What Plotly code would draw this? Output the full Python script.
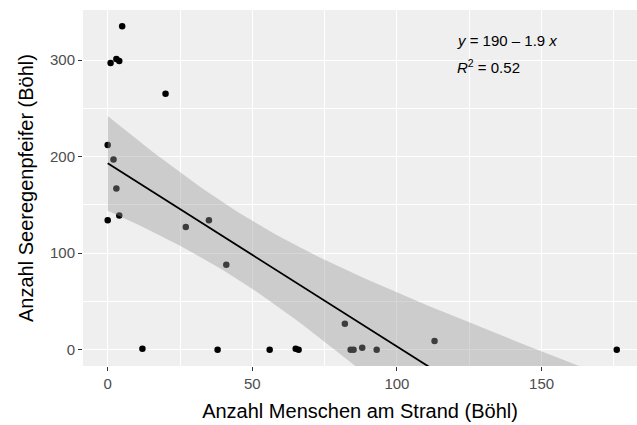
import numpy as np
import plotly.graph_objects as go

# Beach counts at Böhl: people on the beach vs. Kentish plovers
menschen = [5, 1, 3, 4, 20, 0, 2, 3, 4, 0, 27, 35, 41, 12, 38, 56, 65, 66,
            82, 84, 85, 88, 93, 113, 176]
seeregenpfeifer = [335, 297, 301, 299, 265, 212, 197, 167, 139, 134, 127, 134, 88,
                   1, 0, 0, 1, 0, 27, 0, 0, 2, 0, 9, 0]

x_ticks = [0, 50, 100, 150]
y_ticks = [0, 100, 200, 300]
x_title = "Anzahl Menschen am Strand (Böhl)"
y_title = "Anzahl Seeregenpfeifer (Böhl)"

# Linear model with 95% confidence band
x = np.asarray(menschen, dtype=float)
y = np.asarray(seeregenpfeifer, dtype=float)
n = len(x)
slope, intercept = np.polyfit(x, y, 1)
resid = y - (intercept + slope * x)
s = np.sqrt(np.sum(resid ** 2) / (n - 2))
sxx = np.sum((x - x.mean()) ** 2)
r2 = 1 - np.sum(resid ** 2) / np.sum((y - y.mean()) ** 2)
t_crit = 2.0687  # t quantile 0.975, df = 23

xs = np.linspace(x.min(), x.max(), 80)
fit = intercept + slope * xs
se = s * np.sqrt(1.0 / n + (xs - x.mean()) ** 2 / sxx)
upper = fit + t_crit * se
lower = fit - t_crit * se


def signif(v, digits=2):
    return float(f"{v:.{digits}g}")


eq_text = f"<i>y</i> = {signif(intercept):g} \u2013 {abs(signif(slope)):g} <i>x</i>"
r2_text = f"<i>R</i><sup>2</sup> = {r2:.2f}"

fig = go.Figure()

fig.add_trace(go.Scatter(
    x=menschen, y=seeregenpfeifer, mode="markers",
    marker=dict(color="black", size=6.5, line=dict(width=0)),
    cliponaxis=True, hoverinfo="skip", showlegend=False,
))

fig.add_trace(go.Scatter(
    x=np.concatenate([xs, xs[::-1]]), y=np.concatenate([upper, lower[::-1]]),
    mode="lines", fill="toself", fillcolor="rgba(153,153,153,0.4)",
    line=dict(width=0), hoverinfo="skip", showlegend=False,
))

fig.add_trace(go.Scatter(
    x=xs, y=fit, mode="lines", line=dict(color="black", width=1.8),
    hoverinfo="skip", showlegend=False,
))

fig.add_annotation(x=0.671, y=0.9157, xref="paper", yref="paper", text=eq_text,
                   showarrow=False, xanchor="left", yanchor="middle",
                   font=dict(size=15, color="black"))
fig.add_annotation(x=0.671, y=0.8406, xref="paper", yref="paper", text=r2_text,
                   showarrow=False, xanchor="left", yanchor="middle",
                   font=dict(size=15, color="black"))

axis_common = dict(
    showgrid=True, gridcolor="white", gridwidth=1.1,
    zeroline=False, showline=False,
    ticks="outside", ticklen=4, tickwidth=1, tickcolor="#333333",
    tickfont=dict(size=15, color="#4D4D4D"),
    minor=dict(showgrid=True, gridcolor="white", gridwidth=0.5, ticks=""),
)

fig.update_xaxes(range=[-8.54, 183.0], tickvals=x_ticks,
                 minor_tickvals=[25, 75, 125, 175],
                 title=dict(text=x_title, font=dict(size=20, color="black"), standoff=12),
                 **axis_common)
fig.update_yaxes(range=[-16.8, 351.8], tickvals=y_ticks,
                 minor_tickvals=[50, 150, 250],
                 title=dict(text=y_title, font=dict(size=20, color="black"), standoff=10),
                 **axis_common)

fig.update_layout(
    width=637, height=425,
    margin=dict(l=83, r=0, t=10, b=59),
    plot_bgcolor="#EFEFEF", paper_bgcolor="white",
    font=dict(family="Liberation Sans, Arial, sans-serif"),
)

fig.write_html("out.html")
